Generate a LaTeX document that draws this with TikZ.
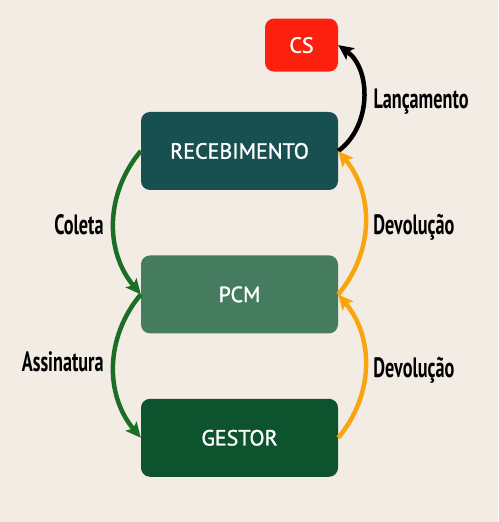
\documentclass[tikz,border=0pt]{standalone}
\usepackage{fontspec}
\setmainfont{PT Sans}
\newfontfamily\boxfont[FakeBold=1.3]{PT Sans}
\newfontfamily\labelfont[FakeStretch=0.65]{PT Sans}
\usetikzlibrary{positioning,arrows.meta}
\definecolor{bg}{RGB}{242,236,228}
\definecolor{csred}{RGB}{253,32,14}
\definecolor{recteal}{RGB}{24,79,80}
\definecolor{pcmgreen}{RGB}{69,123,94}
\definecolor{gestgreen}{RGB}{13,84,46}
\definecolor{arrgreen}{RGB}{27,110,38}
\definecolor{arrorange}{RGB}{249,165,15}

\begin{document}
\begin{tikzpicture}[x=1pt,y=1pt,
    box/.style={rounded corners=9pt,minimum width=197pt,minimum height=78pt,
        text=white,font=\boxfont\fontsize{22}{24}\selectfont},
    flow/.style={line width=4.5pt,-{Stealth[length=15pt,width=14pt,inset=3pt]}},
    lbl/.style={text=black,font=\labelfont\bfseries\fontsize{28}{30}\selectfont,inner sep=0pt}]
            \fill[bg] (0,0) rectangle (498,522);
            \useasboundingbox (0,0) rectangle (498,522);
            \node[box,fill=recteal] (rec) at (239.5,371) {RECEBIMENTO};
            \node[box,fill=pcmgreen,below=65pt of rec] (pcm) {PCM};
            \node[box,fill=gestgreen,below=65pt of pcm] (gestor) {GESTOR};
            \node[box,fill=csred,minimum width=73pt,minimum height=53pt,
                above=40pt of rec.north east,anchor=south east] (cs) {CS};
            \draw[flow,black](rec.east) to[bend right=54] node[lbl,right=8pt,yshift=-4pt] {Lançamento} (cs.east);
            \draw[flow,arrorange](pcm.east) to[bend right=40] node[lbl,right=6pt,yshift=-5pt] {Devolução} (rec.east);
            \draw[flow,arrorange](gestor.east) to[bend right=40] node[lbl,right=6pt,yshift=-4pt] {Devolução} (pcm.east);
            \draw[flow,arrgreen](rec.west) to[bend right=40] node[lbl,left=8pt,yshift=-2pt] {Coleta} (pcm.west);
            \draw[flow,arrgreen](pcm.west) to[bend right=40] node[lbl,left=8pt,yshift=4pt] {Assinatura} (gestor.west);
        \end{tikzpicture}
\end{document}
